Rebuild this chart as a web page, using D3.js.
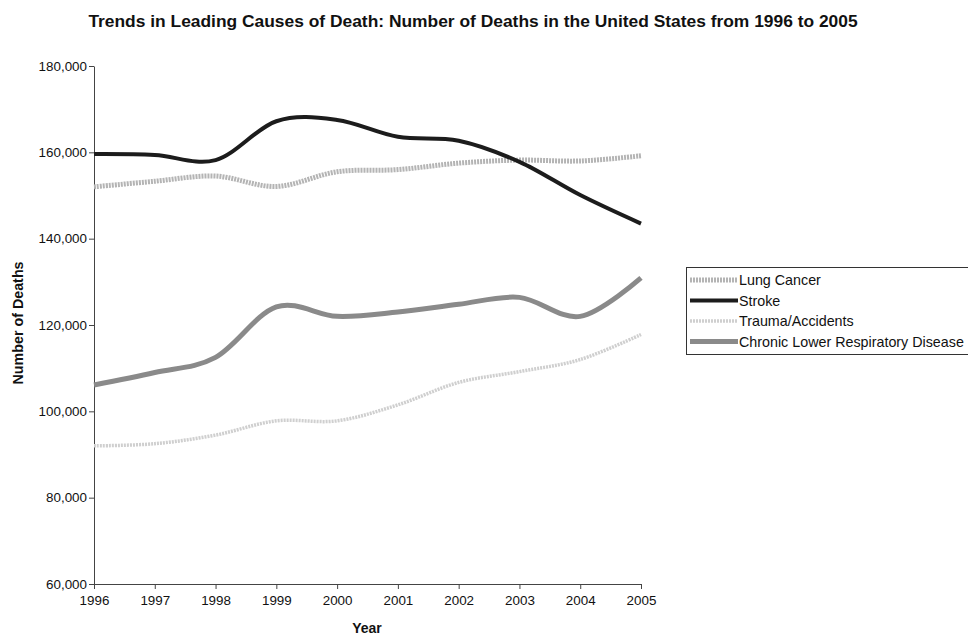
<!DOCTYPE html>
<html>
<head>
<meta charset="utf-8">
<script src="https://d3js.org/d3.v7.min.js"></script>
<style>
  html, body { margin: 0; padding: 0; background: #fff; }
  svg text { font-family: "Liberation Sans", Arial, sans-serif; fill: #111; }
</style>
</head>
<body>
<script>
// values
const years = [1996, 1997, 1998, 1999, 2000, 2001, 2002, 2003, 2004, 2005];
const lungCancer = [152000, 153300, 154500, 152100, 155500, 156000, 157500, 158200, 158000, 159200];
const stroke = [159600, 159400, 158200, 167200, 167500, 163600, 162700, 157800, 150100, 143500];
const trauma = [92000, 92500, 94500, 97800, 97800, 101500, 106700, 109200, 112000, 117800];
const clrd = [106100, 109000, 112500, 124200, 122000, 123000, 124800, 126400, 122000, 130900];
const yTicks = [60000, 80000, 100000, 120000, 140000, 160000, 180000];

const series = [
  { name: "Lung Cancer", values: lungCancer, color: "#b4b4b4", width: 5, dash: "2,1" },
  { name: "Stroke", values: stroke, color: "#1c1c1c", width: 4, dash: null },
  { name: "Trauma/Accidents", values: trauma, color: "#cfcfcf", width: 3.5, dash: "2,1" },
  { name: "Chronic Lower Respiratory Disease", values: clrd, color: "#8a8a8a", width: 5, dash: null }
];

const width = 968, height = 636;
const svg = d3.select("body").append("svg")
  .attr("width", width).attr("height", height);

const x = d3.scaleLinear().domain([1996, 2005]).range([94, 641]);
const y = d3.scaleLinear().domain([60000, 180000]).range([584, 66]);

// title
svg.append("text")
  .attr("x", 473).attr("y", 27)
  .attr("text-anchor", "middle")
  .style("font-size", "17.4px").style("font-weight", "bold")
  .text("Trends in Leading Causes of Death: Number of Deaths in the United States from 1996 to 2005");

// axes
const xAxis = svg.append("g")
  .attr("transform", "translate(0,584)")
  .call(d3.axisBottom(x).tickValues(years).tickFormat(d3.format("d")).tickSize(5).tickSizeOuter(0));
const yAxis = svg.append("g")
  .attr("transform", "translate(94,0)")
  .call(d3.axisLeft(y).tickValues(yTicks).tickFormat(d3.format(",")).tickSize(5).tickSizeOuter(0));
[xAxis, yAxis].forEach(function (g) {
  g.selectAll("path, line").attr("stroke", "#444");
  g.selectAll("text").style("font-size", "13.4px").attr("fill", "#111");
});
xAxis.selectAll("text").attr("dy", "1em");
yAxis.selectAll("text").attr("x", -7);

svg.append("text")
  .attr("x", 367).attr("y", 633)
  .attr("text-anchor", "middle")
  .style("font-size", "14px").style("font-weight", "bold")
  .text("Year");

svg.append("text")
  .attr("transform", "translate(23,323) rotate(-90)")
  .attr("text-anchor", "middle")
  .style("font-size", "14.3px").style("font-weight", "bold")
  .text("Number of Deaths");

// lines
const line = d3.line()
  .x(function (d, i) { return x(years[i]); })
  .y(function (d) { return y(d); })
  .curve(d3.curveCatmullRom.alpha(0));

series.forEach(function (s) {
  svg.append("path")
    .datum(s.values)
    .attr("d", line)
    .attr("fill", "none")
    .attr("stroke", s.color)
    .attr("stroke-width", s.width)
    .attr("stroke-dasharray", s.dash)
    .attr("stroke-linejoin", "round");
});

// legend
const legend = svg.append("g").attr("transform", "translate(686,267)");
legend.append("rect")
  .attr("x", 0.5).attr("y", 0.5)
  .attr("width", 300).attr("height", 87)
  .attr("fill", "#fff").attr("stroke", "#333");
series.forEach(function (s, i) {
  const ly = 13 + i * 20.5;
  legend.append("line")
    .attr("x1", 4).attr("x2", 52)
    .attr("y1", ly).attr("y2", ly)
    .attr("stroke", s.color)
    .attr("stroke-width", s.width)
    .attr("stroke-dasharray", s.dash);
  legend.append("text")
    .attr("x", 53).attr("y", ly)
    .attr("dy", "0.36em")
    .style("font-size", "14.3px")
    .text(s.name);
});
</script>
</body>
</html>
